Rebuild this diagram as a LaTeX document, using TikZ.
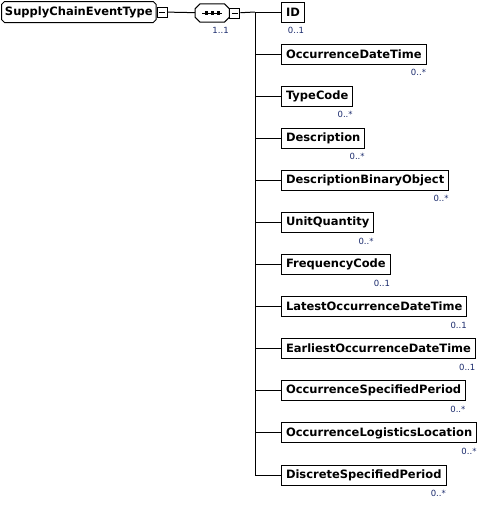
\documentclass[tikz,border=0pt]{standalone}
\usepackage{fontspec}
\setmainfont{DejaVu Sans}
\definecolor{multblue}{HTML}{1A2A6C}
\usetikzlibrary{positioning}
\tikzset{
	elemnode/.style={
			rectangle,
			draw=black,
			line width=1pt,
			anchor=west,
			minimum height=20pt,
			inner xsep=4.5pt,
			inner ysep=0pt,
			font=\fontsize{11.5}{13}\selectfont\bfseries
		},
	rootnode/.style={
			elemnode,
			draw=none,
			inner xsep=3pt
		},
	seqnode/.style={
			rectangle,
			anchor=west,
			minimum width=34pt,
			minimum height=18pt,
			inner sep=0pt
		},
	minusbox/.style={
			rectangle,
			draw=black,
			line width=0.9pt,
			minimum size=10pt,
			inner sep=0pt,
			path picture={\draw[line width=0.9pt] ([xshift=2pt]path picture bounding box.west) -- ([xshift=-2pt]path picture bounding box.east);}
		},
	multlabel/.style={
			anchor=north east,
			inner sep=0.5pt,
			yshift=-4pt,
			text=multblue,
			font=\fontsize{8.5}{10}\selectfont
		},
	link/.style={
			draw=black,
			line width=1pt
		}
}

\begin{document}
\begin{tikzpicture}[x=1pt, y=-1pt]
\useasboundingbox (0,0) rectangle (477,507);

\node[rootnode] (root) at (1.5,12) {SupplyChainEventType};
\draw[link] ([xshift=3pt]root.north west) -- ([xshift=-3pt]root.north east)
  -- ([yshift=-3pt]root.north east) -- ([yshift=3pt]root.south east)
  -- ([xshift=-3pt]root.south east) -- ([xshift=3pt]root.south west)
  -- ([yshift=3pt]root.south west) -- ([yshift=-3pt]root.north west) -- cycle;
\node[minusbox, right=0.5pt of root] (rootminus) {};

\node[seqnode] (seq) at (195,13) {};
\draw[link] ([xshift=5pt]seq.north west) -- ([xshift=-5pt]seq.north east)
  -- ([yshift=-5pt]seq.north east) -- ([yshift=5pt]seq.south east)
  -- ([xshift=-5pt]seq.south east) -- ([xshift=5pt]seq.south west)
  -- ([yshift=5pt]seq.south west) -- ([yshift=-5pt]seq.north west) -- cycle;
\node[minusbox, right=0pt of seq] (seqminus) {};
\node[multlabel] (seqmult) at (seq.south east) {1..1};
\draw[line width=0.9pt] ([xshift=-10pt]seq.center) -- ([xshift=10pt]seq.center);
\foreach \dx in {-6,0,6}
  \fill ([xshift=\dx pt]seq.center) +(-1.7pt,-1.7pt) rectangle +(1.7pt,1.7pt);

\coordinate (fork) at (255,12);

\node[elemnode] (c1) at (281,12) {ID};
\node[elemnode] (c2) at (281,54.1) {OccurrenceDateTime};
\node[elemnode] (c3) at (281,96.2) {TypeCode};
\node[elemnode] (c4) at (281,138.3) {Description};
\node[elemnode] (c5) at (281,180.4) {DescriptionBinaryObject};
\node[elemnode] (c6) at (281,222.5) {UnitQuantity};
\node[elemnode] (c7) at (281,264.5) {FrequencyCode};
\node[elemnode] (c8) at (281,306.6) {LatestOccurrenceDateTime};
\node[elemnode] (c9) at (281,348.7) {EarliestOccurrenceDateTime};
\node[elemnode] (c10) at (281,390.8) {OccurrenceSpecifiedPeriod};
\node[elemnode] (c11) at (281,432.9) {OccurrenceLogisticsLocation};
\node[elemnode] (c12) at (281,475) {DiscreteSpecifiedPeriod};

\node[multlabel] (m1) at (c1.south east) {0..1};
\node[multlabel] (m2) at (c2.south east) {0..*};
\node[multlabel] (m3) at (c3.south east) {0..*};
\node[multlabel] (m4) at (c4.south east) {0..*};
\node[multlabel] (m5) at (c5.south east) {0..*};
\node[multlabel] (m6) at (c6.south east) {0..*};
\node[multlabel] (m7) at (c7.south east) {0..1};
\node[multlabel] (m8) at (c8.south east) {0..1};
\node[multlabel] (m9) at (c9.south east) {0..1};
\node[multlabel] (m10) at (c10.south east) {0..*};
\node[multlabel] (m11) at (c11.south east) {0..*};
\node[multlabel] (m12) at (c12.south east) {0..*};

\draw[link] (rootminus) -- (seq);
\draw[link] (seqminus) -- (fork);
\foreach \i in {1,...,12}
  \draw[link] (fork) |- (c\i.west);

\end{tikzpicture}
\end{document}
